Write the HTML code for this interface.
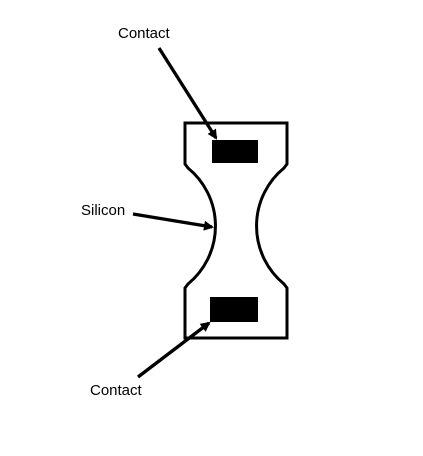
<!DOCTYPE html>
<html><head><meta charset="utf-8"><style>
html,body{margin:0;padding:0;background:#fff;width:423px;height:456px;overflow:hidden}
svg{display:block}
text{font-family:"Liberation Sans",Arial,sans-serif;font-size:15px;fill:#000}
</style></head><body>
<svg width="423" height="456" viewBox="0 0 423 456">
<defs><marker id="ah" markerWidth="10" markerHeight="10" refX="8" refY="5" orient="auto" markerUnits="userSpaceOnUse"><path d="M0,0 L10,5 L0,10 z" fill="#000"/></marker></defs>
<path d="M185,123 L287,123 L287,164 L284,168 A75,75 0 0 0 284,284 L287,288 L287,338 L185,338 L185,288 L188,284 A75,75 0 0 0 188,168 L185,164 Z" fill="none" stroke="#000" stroke-width="3"/>
<rect x="212" y="140" width="46" height="23" fill="#000"/>
<rect x="210" y="297" width="48" height="25" fill="#000"/>
<text x="118" y="38">Contact</text>
<line x1="159" y1="48" x2="216" y2="138" stroke="#000" stroke-width="3.3" marker-end="url(#ah)"/>
<text x="81" y="215">Silicon</text>
<line x1="133" y1="214" x2="212" y2="227" stroke="#000" stroke-width="3.3" marker-end="url(#ah)"/>
<text x="90" y="395">Contact</text>
<line x1="138" y1="377" x2="209" y2="323" stroke="#000" stroke-width="3.3" marker-end="url(#ah)"/>
</svg>
</body></html>
